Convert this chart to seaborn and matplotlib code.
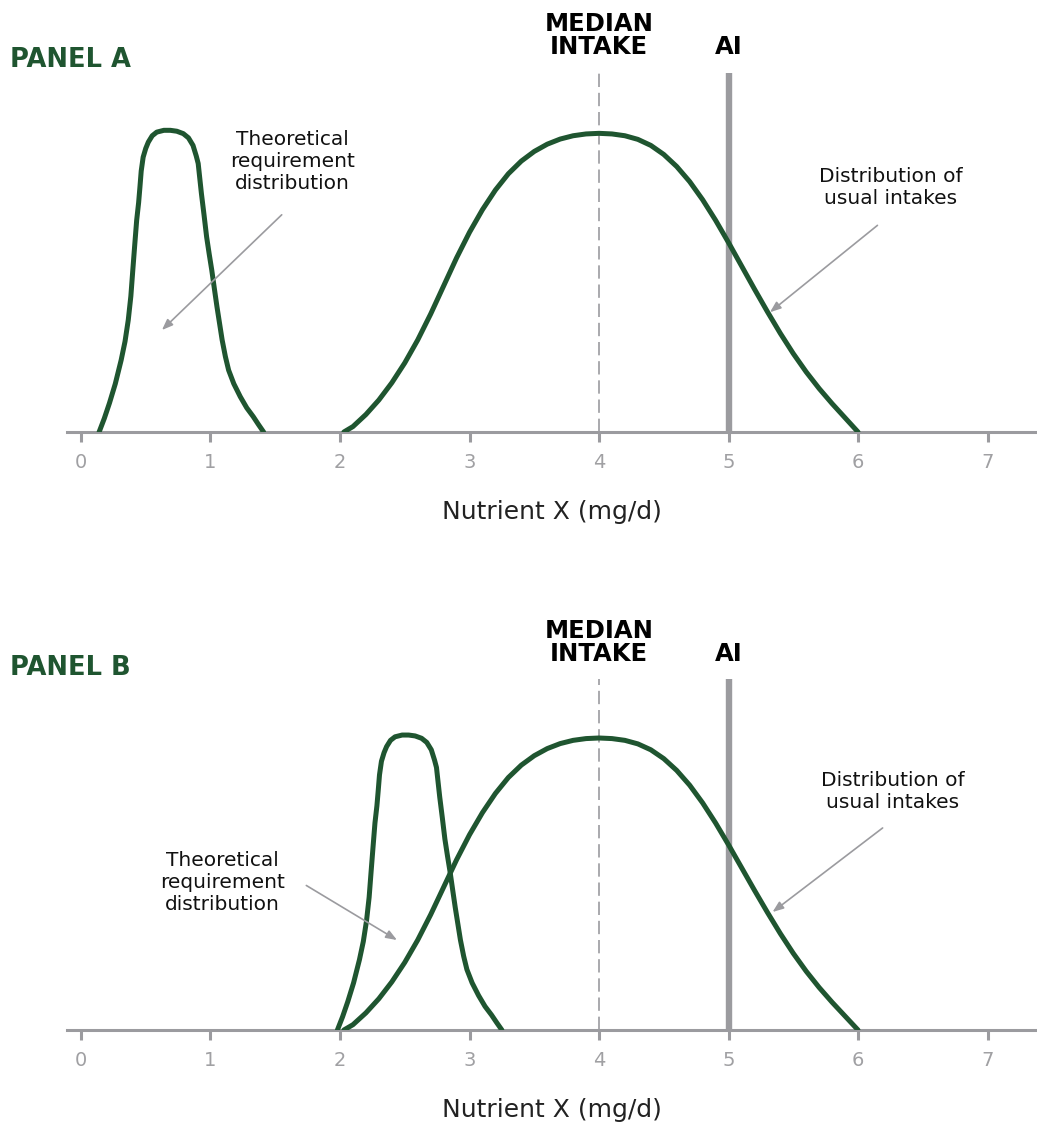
import numpy as np
import pandas as pd
import seaborn as sns
import matplotlib
matplotlib.use("Agg")
import matplotlib.pyplot as plt

# values
req_x_a = [0.14, 0.18, 0.22, 0.265, 0.31, 0.34, 0.365, 0.385, 0.40, 0.415, 0.43, 0.445,
           0.455, 0.465, 0.48, 0.50, 0.52, 0.55, 0.585, 0.64, 0.69, 0.74, 0.79, 0.83,
           0.865, 0.89, 0.905, 0.93, 0.95, 0.97, 0.99, 1.01, 1.03, 1.05, 1.07, 1.09,
           1.115, 1.14, 1.18, 1.23, 1.28, 1.33, 1.37, 1.41]
req_x_b = [1.98, 2.02, 2.06, 2.105, 2.15, 2.18, 2.205, 2.225, 2.24, 2.255, 2.27, 2.285,
           2.295, 2.305, 2.32, 2.34, 2.36, 2.39, 2.425, 2.48, 2.53, 2.58, 2.63, 2.67,
           2.705, 2.73, 2.745, 2.77, 2.79, 2.81, 2.83, 2.85, 2.87, 2.89, 2.91, 2.93,
           2.955, 2.98, 3.02, 3.07, 3.12, 3.17, 3.21, 3.25]
req_y = [0.0, 0.045, 0.096, 0.16, 0.238, 0.30, 0.371, 0.45, 0.536, 0.62, 0.702, 0.76,
         0.811, 0.865, 0.911, 0.94, 0.961, 0.982, 0.994, 1.0, 1.0, 0.997, 0.989, 0.975,
         0.95, 0.915, 0.89, 0.79, 0.72, 0.647, 0.59, 0.536, 0.475, 0.415, 0.36, 0.305,
         0.25, 0.205, 0.16, 0.117, 0.08, 0.051, 0.025, 0.0]

intake_x = [2.03, 2.1, 2.2, 2.3, 2.4, 2.5, 2.6, 2.7, 2.8, 2.9, 3.0, 3.1, 3.2, 3.3,
            3.4, 3.5, 3.6, 3.7, 3.8, 3.9, 4.0, 4.1, 4.2, 4.3, 4.4, 4.5, 4.6, 4.7,
            4.8, 4.9, 5.0, 5.1, 5.2, 5.3, 5.4, 5.5, 5.6, 5.7, 5.8, 5.9, 6.0]
intake_y = [0.0, 0.018, 0.058, 0.106, 0.163, 0.229, 0.305, 0.391, 0.484, 0.577, 0.662,
            0.737, 0.802, 0.856, 0.898, 0.930, 0.954, 0.971, 0.982, 0.988, 0.990,
            0.988, 0.982, 0.970, 0.950, 0.920, 0.880, 0.830, 0.770, 0.702, 0.628,
            0.551, 0.474, 0.399, 0.327, 0.260, 0.199, 0.144, 0.094, 0.047, 0.0]

median_intake = 4
ai_value = 5
x_ticks = [0, 1, 2, 3, 4, 5, 6, 7]

green = "#1f5530"
grey = "#9b9b9f"

sns.set_style("white")
plt.rcParams["font.family"] = ["DejaVu Sans"]

fig = plt.figure(figsize=(10.37, 11.4), dpi=100)
W, H = 1037, 1140


def panel(bottom_px, height_px, req_x, label, req_txt, req_arrow, int_txt, int_arrow, label_y):
    ax = fig.add_axes([67 / W, 1 - bottom_px / H, 970 / W, height_px / H])
    top = 1.19
    ax.set_xlim(-0.108, 7.382)
    ax.set_ylim(0, top)

    req = pd.DataFrame({"x": req_x, "y": req_y})
    intake = pd.DataFrame({"x": intake_x, "y": intake_y})
    ax.vlines(median_intake, 0, top, colors=grey, linestyles=(0, (8, 3.5)), linewidth=1.2, zorder=1)
    ax.vlines(ai_value, 0, top, colors=grey, linewidth=4.6, zorder=1)
    for df in (req, intake):
        sns.lineplot(data=df, x="x", y="y", ax=ax, color=green, linewidth=3.6, sort=False,
                     solid_capstyle="round", solid_joinstyle="round", zorder=3)

    for s in ["top", "left", "right"]:
        ax.spines[s].set_visible(False)
    ax.spines["bottom"].set_color(grey)
    ax.spines["bottom"].set_linewidth(2.2)
    ax.set_yticks([])
    ax.set_xticks(x_ticks)
    ax.set_xticklabels([str(t) for t in x_ticks])
    ax.tick_params(axis="x", direction="out", length=7, width=2.2, color=grey,
                   labelcolor="#a0a0a3", labelsize=14, pad=8, bottom=True)
    ax.set_xlabel("Nutrient X (mg/d)", fontsize=18, color="#222222", labelpad=20)
    ax.set_ylabel("")

    ax.text(median_intake, 1.235, "MEDIAN\nINTAKE", ha="center", va="bottom", fontsize=17.5,
            fontweight="bold", color="black", linespacing=0.95, clip_on=False)
    ax.text(ai_value, 1.235, "AI", ha="center", va="bottom", fontsize=17.5,
            fontweight="bold", color="black", clip_on=False)

    arrow = dict(arrowstyle="-|>,head_length=0.65,head_width=0.25", color=grey, lw=1.2,
                 shrinkA=0, shrinkB=0)
    ax.text(req_txt[0], req_txt[1], "Theoretical\nrequirement\ndistribution", ha="center",
            va="center", fontsize=14.5, color="#111111", linespacing=1.2)
    ax.annotate("", xy=req_arrow[1], xytext=req_arrow[0], arrowprops=arrow)
    ax.text(int_txt[0], int_txt[1], "Distribution of\nusual intakes", ha="center",
            va="center", fontsize=14.5, color="#111111", linespacing=1.2)
    ax.annotate("", xy=int_arrow[1], xytext=int_arrow[0], arrowprops=arrow)

    fig.text(10 / W, label_y, label, ha="left", va="center", fontsize=18.5, fontweight="bold",
             color=green)
    return ax


panel(432, 359, req_x_a, "PANEL A",
      (1.63, 0.895), ((1.55, 0.72), (0.625, 0.338)),
      (6.25, 0.81), ((6.15, 0.685), (5.32, 0.397)),
      1 - 60 / H)
panel(1030, 351, req_x_b, "PANEL B",
      (1.09, 0.50), ((1.74, 0.49), (2.44, 0.305)),
      (6.27, 0.81), ((6.19, 0.685), (5.34, 0.40)),
      1 - 668 / H)

fig.savefig("out.png", dpi=100)
